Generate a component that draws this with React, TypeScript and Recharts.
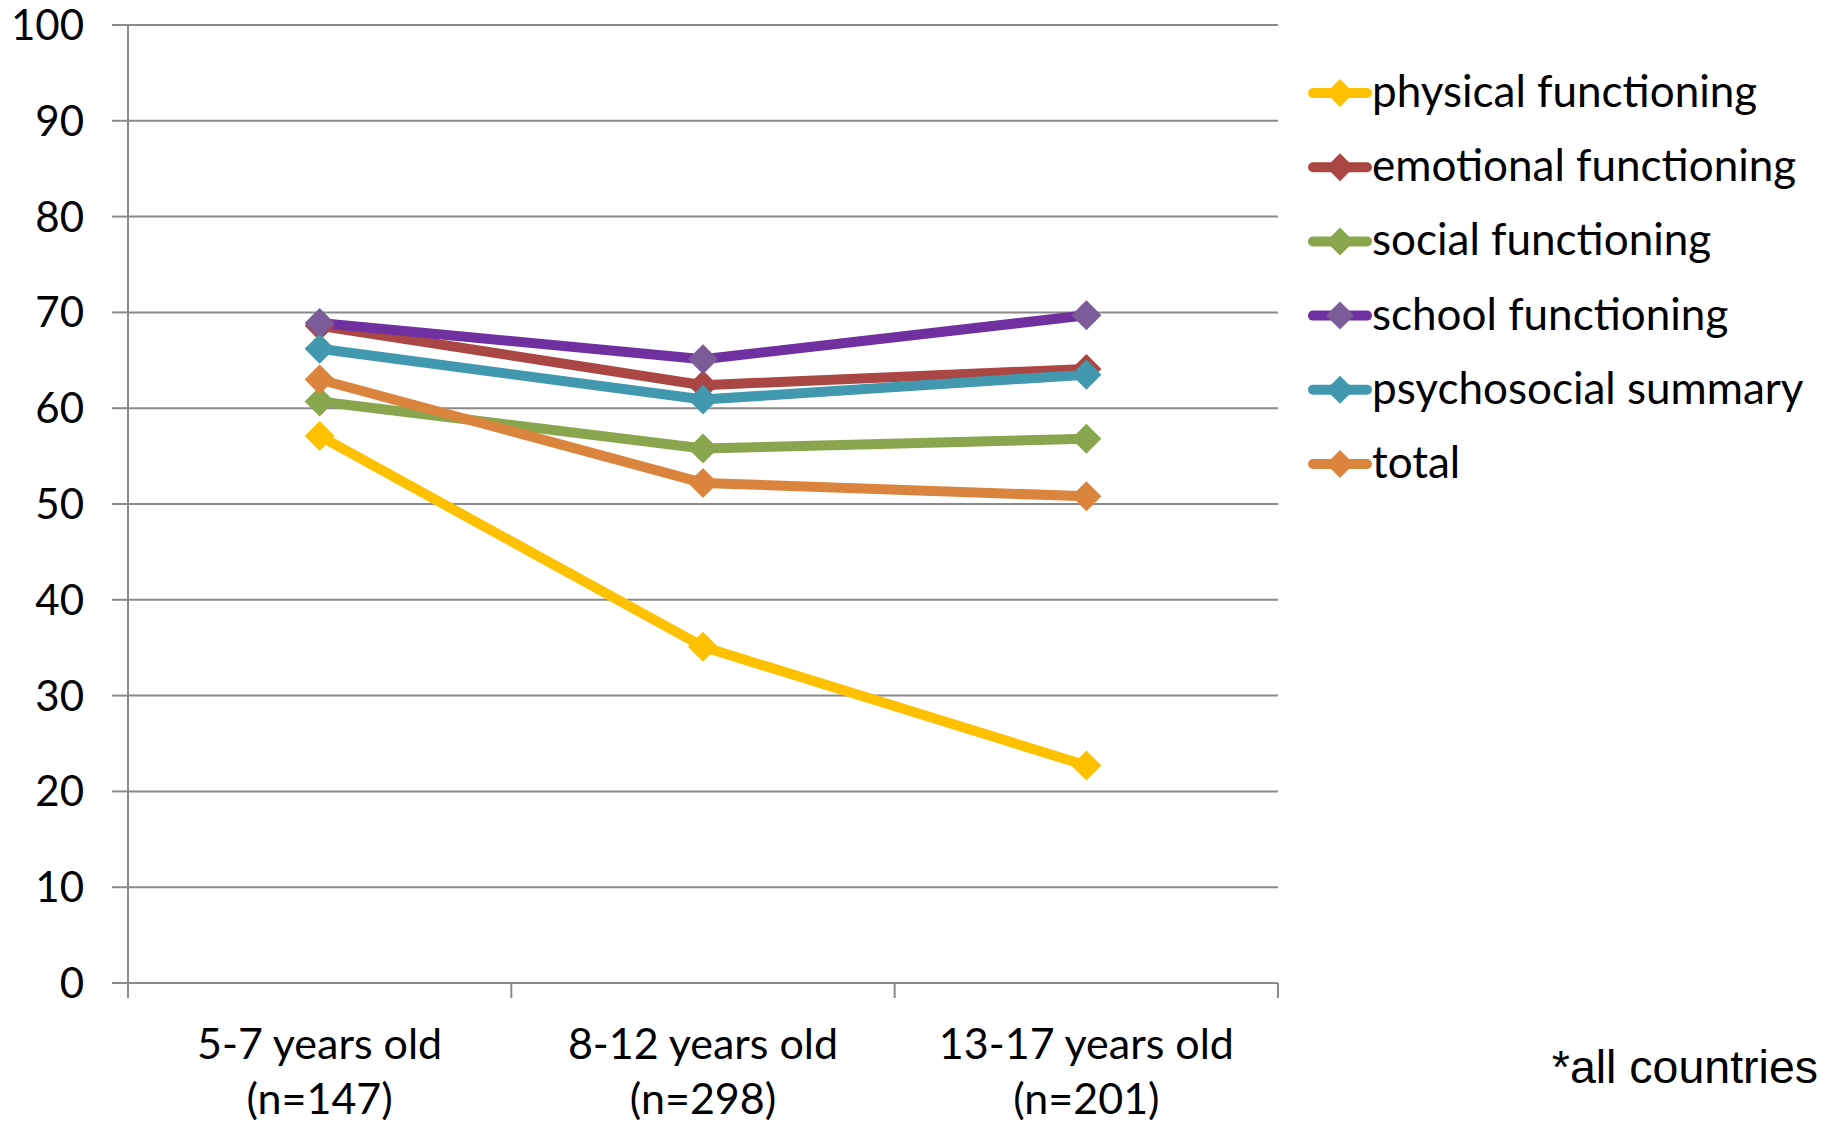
import React from 'react';
import { LineChart, Line, XAxis, YAxis, CartesianGrid } from 'recharts';

const categories = ['5-7 years old', '8-12 years old', '13-17 years old'];
const sampleSizes = ['(n=147)', '(n=298)', '(n=201)'];

const physical = [57.1, 35.1, 22.7];
const emotional = [68.6, 62.4, 64.1];
const social = [60.7, 55.8, 56.8];
const school = [68.9, 65.1, 69.7];
const psychosocial = [66.2, 60.9, 63.5];
const total = [63.0, 52.2, 50.8];

const seriesNames = [
  'physical functioning',
  'emotional functioning',
  'social functioning',
  'school functioning',
  'psychosocial summary',
  'total',
];
const seriesKeys = ['physical', 'emotional', 'social', 'school', 'psychosocial', 'total'];
const lineColors = ['#FFC000', '#AA4643', '#89A54E', '#7030A0', '#4198AF', '#DB843D'];
const markerColors = ['#FFC000', '#AA4643', '#89A54E', '#7B5C99', '#4198AF', '#DB843D'];

const yTicks = [0, 10, 20, 30, 40, 50, 60, 70, 80, 90, 100];
const boundaryTicks = [0, 1, 2, 3];

const data = categories.map((c, i) => ({
  category: c,
  pos: i + 0.5,
  n: sampleSizes[i],
  physical: physical[i],
  emotional: emotional[i],
  social: social[i],
  school: school[i],
  psychosocial: psychosocial[i],
  total: total[i],
}));

const FONT = 'Lato, "Open Sans", sans-serif';
const GRID = '#8a8a8a';

const makeDiamond = (color: string) => (props: any) => {
  const { cx, cy, index } = props;
  if (cx == null || cy == null) return <g key={index} />;
  const r = 15;
  return (
    <polygon
      key={index}
      points={`${cx},${cy - r} ${cx + r},${cy} ${cx},${cy + r} ${cx - r},${cy}`}
      fill={color}
      stroke="none"
    />
  );
};

const XTick = (props: any) => {
  const { x, y, payload, index } = props;
  return (
    <g>
      <text x={x} y={y + 61} textAnchor="middle" fontSize={43} fontFamily={FONT} fill="#000">
        {payload.value}
      </text>
      <text x={x} y={y + 116} textAnchor="middle" fontSize={43} fontFamily={FONT} fill="#000">
        {sampleSizes[index]}
      </text>
    </g>
  );
};

const EmptyTick = () => <g />;

const LegendBlock = () => (
  <svg width={530} height={460} style={{ position: 'absolute', left: 1297, top: 55 }}>
    {seriesNames.map((name, i) => {
      const cy = 38 + i * 74.2;
      const r = 14;
      return (
        <g key={name}>
          <line x1={16} x2={70} y1={cy} y2={cy} stroke={lineColors[i]} strokeWidth={10} strokeLinecap="round" />
          <polygon
            points={`${43},${cy - r} ${43 + r},${cy} ${43},${cy + r} ${43 - r},${cy}`}
            fill={markerColors[i]}
          />
          <text x={75} y={cy + 14} fontSize={44} fontFamily={FONT} fill="#000">
            {name}
          </text>
        </g>
      );
    })}
  </svg>
);

export default function App() {
  return (
    <div style={{ position: 'absolute', left: 0, top: 0, width: 1833, height: 1125, background: '#fff' }}>
      <LineChart
        width={1833}
        height={1125}
        data={data}
        margin={{ top: 25, right: 555, bottom: 0, left: 0 }}
      >
        <CartesianGrid vertical={false} stroke={GRID} strokeWidth={2} yAxisId="y" xAxisId="b" />
        <XAxis
          xAxisId="a"
          dataKey="pos"
          type="number"
          domain={[0, 3]}
          ticks={boundaryTicks}
          allowDataOverflow
          interval={0}
          height={15}
          tick={<EmptyTick />}
          tickSize={15}
          stroke={GRID}
          axisLine={{ stroke: GRID, strokeWidth: 2 }}
          tickLine={{ stroke: GRID, strokeWidth: 2 }}
        />
        <XAxis
          xAxisId="b"
          dataKey="category"
          height={127}
          axisLine={false}
          tickLine={false}
          tickSize={0}
          tickMargin={0}
          padding={{ left: 191.6, right: 191.6 }}
          tick={<XTick />}
          interval={0}
        />
        <YAxis
          yAxisId="y"
          width={128}
          domain={[0, 100]}
          ticks={yTicks}
          interval={0}
          tickSize={16}
          tickMargin={28}
          axisLine={{ stroke: GRID, strokeWidth: 2 }}
          tickLine={{ stroke: GRID, strokeWidth: 2 }}
          tick={{ fill: '#000', fontSize: 42, fontFamily: FONT }}
        />
        {seriesKeys.map((k, i) => (
          <Line
            key={k}
            xAxisId="b"
            yAxisId="y"
            dataKey={k}
            name={seriesNames[i]}
            stroke={lineColors[i]}
            strokeWidth={10}
            strokeLinejoin="round"
            strokeLinecap="round"
            dot={makeDiamond(markerColors[i])}
            activeDot={false}
            isAnimationActive={false}
          />
        ))}
      </LineChart>
      <LegendBlock />
      <div
        style={{
          position: 'absolute',
          right: 15,
          top: 1039,
          fontFamily: '"Liberation Sans", Arial, sans-serif',
          fontSize: 46.5,
          lineHeight: '56px',
          color: '#000',
        }}
      >
        *all countries
      </div>
    </div>
  );
}
